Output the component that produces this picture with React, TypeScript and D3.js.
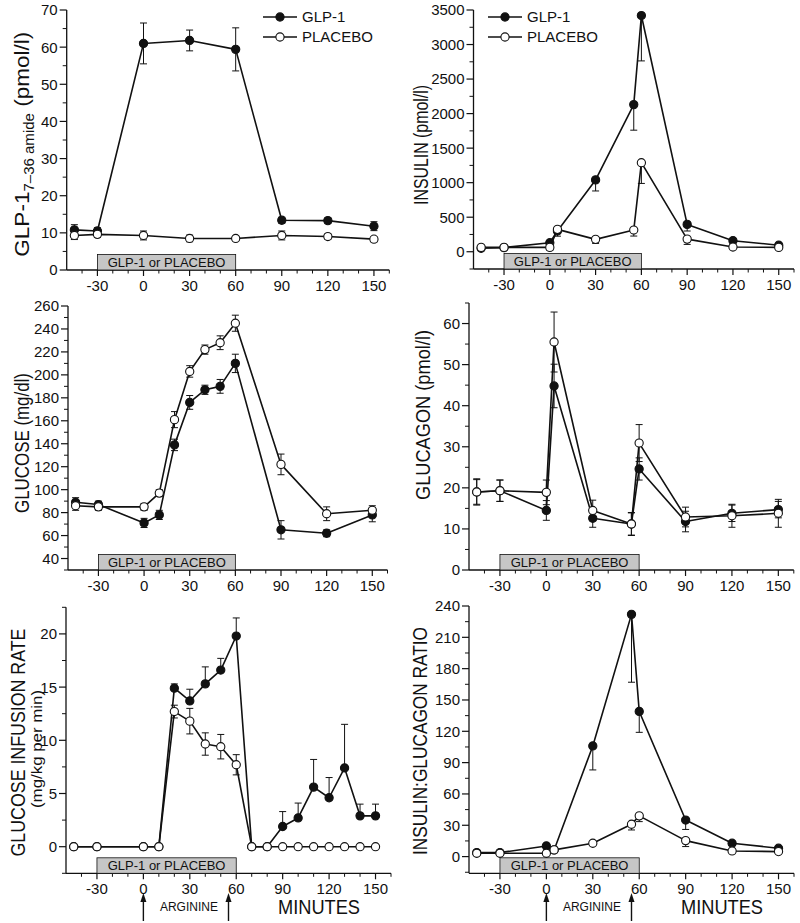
import React from 'react';
import * as d3 from 'd3';

const FONT = "'Liberation Sans', Arial, Helvetica, sans-serif";

// ---------- Panel A: GLP-1 7-36 amide ----------
const glpTimes = [-45, -30, 0, 30, 60, 90, 120, 150];
const glpGlp = [10.8, 10.5, 61.0, 61.8, 59.4, 13.4, 13.3, 11.8];
const glpGlpErr = [1.4, 0.9, 5.5, 2.8, 5.8, 0.8, 0.7, 1.2];
const glpPla = [9.3, 9.6, 9.3, 8.5, 8.5, 9.3, 9.0, 8.3];
const glpPlaErr = [1.1, 0.8, 1.2, 0.9, 0.6, 1.2, 0.7, 0.7];

// ---------- Panel B: insulin ----------
const insTimes = [-45, -30, 0, 5, 30, 55, 60, 90, 120, 150];
const insGlp = [50, 60, 130, 300, 1040, 2130, 3420, 396, 160, 95];
const insGlpErr = [20, 20, 40, 75, 160, 370, 657, 96, 30, 20];
const insPla = [63, 63, 63, 324, 179, 314, 1289, 183, 68, 63];
const insPlaErr = [20, 20, 40, 60, 58, 87, 300, 77, 20, 20];

// ---------- Panel C: glucose ----------
const gluTimes = [-45, -30, 0, 10, 20, 30, 40, 50, 60, 90, 120, 150];
const gluGlp = [89, 87, 71, 78, 139, 176, 187, 190, 210, 65, 62, 78];
const gluGlpErr = [4, 3, 4, 4, 5, 6, 4, 6, 8, 8, 3, 6];
const gluPla = [86, 85, 85, 97, 161, 203, 222, 228, 245, 122, 79, 82];
const gluPlaErr = [4, 3, 3, 3, 7, 5, 4, 6, 7, 9, 6, 4];

// ---------- Panel D: glucagon ----------
const gcgTimes = [-45, -30, 0, 5, 30, 55, 60, 90, 120, 150];
const gcgGlp = [19.0, 19.3, 14.5, 44.8, 12.6, 11.2, 24.6, 11.8, 13.8, 14.7];
const gcgGlpErr = [3.0, 2.6, 2.4, 5.3, 2.2, 2.7, 2.7, 2.5, 2.0, 2.0];
const gcgPla = [19.0, 19.3, 18.9, 55.5, 14.5, 11.2, 30.9, 12.9, 13.2, 13.8];
const gcgPlaErr = [3.2, 2.6, 3.0, 7.3, 2.5, 2.8, 4.5, 2.4, 2.8, 3.4];

// ---------- Panel E: glucose infusion rate ----------
const ginfTimes = [-45, -30, 0, 10, 20, 30, 40, 50, 60, 70, 80, 90, 100, 110, 120, 130, 140, 150];
const ginfGlp = [0, 0, 0, 0, 14.9, 13.7, 15.3, 16.6, 19.8, 0, 0, 1.9, 2.7, 5.6, 4.6, 7.4, 2.9, 2.9];
const ginfGlpErr = [0, 0, 0, 0, 0.4, 1.1, 1.6, 1.1, 1.7, 0, 0, 1.4, 1.4, 2.6, 1.9, 4.1, 1.1, 1.1];
const ginfPla = [0, 0, 0, 0, 12.7, 11.8, 9.65, 9.4, 7.7, 0, 0, 0, 0, 0, 0, 0, 0, 0];
const ginfPlaErr = [0, 0, 0, 0, 0.6, 1.2, 1.05, 1.15, 0.95, 0, 0, 0, 0, 0, 0, 0, 0, 0];

// ---------- Panel F: insulin:glucagon ratio ----------
const ratTimes = [-45, -30, 0, 5, 30, 55, 60, 90, 120, 150];
const ratGlp = [3.8, 3.8, 10.2, 6.4, 106, 232, 139, 35, 12.8, 8];
const ratGlpErr = [0, 0, 3, 0, 23, 65, 20, 9, 2, 1];
const ratPla = [3.2, 3.2, 3.2, 6.4, 12.8, 31, 39, 15.3, 5.4, 4.8];
const ratPlaErr = [0.5, 0.5, 0.5, 0.5, 1.5, 5.5, 5.5, 5.7, 1, 1];

const xMajorTicks = [-30, 0, 30, 60, 90, 120, 150];
const xDomain = [-50, 160];
const legendLabels = ['GLP-1', 'PLACEBO'];
const barLabel = 'GLP-1 or PLACEBO';
const barRange = [-30, 60];
const arginineTimes = [0, 55];

type Dir = 'both' | 'up' | 'down';
interface Series { times: number[]; values: number[]; errors: number[]; filled: boolean; dir: Dir; }
interface Box { left: number; right: number; top: number; bottom: number; }

const INK = '#111111';

function Panel(props: {
  box: Box; yDomain: [number, number]; yMajor: number; yMinor: number;
  series: Series[]; legend?: { x: number; y: number }; arrows?: boolean; title: React.ReactNode;
}) {
  const { box, yDomain, yMajor, yMinor, series, legend, arrows, title } = props;
  const x = d3.scaleLinear().domain(xDomain).range([box.left, box.right]);
  const y = d3.scaleLinear().domain(yDomain).range([box.bottom, box.top]);
  const eps = 1e-6;
  const yMaj: number[] = [];
  for (let v = Math.ceil(yDomain[0] / yMajor - eps) * yMajor; v <= yDomain[1] + eps; v += yMajor) yMaj.push(+v.toFixed(6));
  const yMin: number[] = [];
  for (let v = Math.ceil(yDomain[0] / yMinor - eps) * yMinor; v <= yDomain[1] + eps; v += yMinor) {
    const r = +v.toFixed(6);
    if (Math.abs(r / yMajor - Math.round(r / yMajor)) > 1e-6) yMin.push(r);
  }
  const xMin = d3.range(-40, 161, 10).filter((v) => v % 30 !== 0);
  const line = d3.line<[number, number]>().x((d) => x(d[0])).y((d) => y(d[1]));

  return (
    <g fontFamily={FONT}>
      {/* axes */}
      <line x1={box.left} x2={box.left} y1={box.top} y2={box.bottom} stroke={INK} strokeWidth={1.3} />
      <line x1={box.left} x2={box.right} y1={box.bottom} y2={box.bottom} stroke={INK} strokeWidth={1.3} />
      {yMaj.map((v) => (
        <g key={'ym' + v}>
          <line x1={box.left - 7} x2={box.left} y1={y(v)} y2={y(v)} stroke={INK} strokeWidth={1.2} />
          <text x={box.left - 9} y={y(v)} dy="0.36em" textAnchor="end" fontSize={15} fill={INK}>{v}</text>
        </g>
      ))}
      {yMin.map((v) => (
        <line key={'yn' + v} x1={box.left - 4} x2={box.left} y1={y(v)} y2={y(v)} stroke={INK} strokeWidth={1} />
      ))}
      {xMajorTicks.map((v) => (
        <g key={'xm' + v}>
          <line x1={x(v)} x2={x(v)} y1={box.bottom} y2={box.bottom + 6} stroke={INK} strokeWidth={1.2} />
          <text x={x(v)} y={box.bottom + 20.5} textAnchor="middle" fontSize={15} fill={INK}>{v}</text>
        </g>
      ))}
      {xMin.map((v) => (
        <line key={'xn' + v} x1={x(v)} x2={x(v)} y1={box.bottom} y2={box.bottom + 3.5} stroke={INK} strokeWidth={1} />
      ))}
      {/* infusion bar */}
      <rect x={x(barRange[0])} y={box.bottom - 15.5} width={x(barRange[1]) - x(barRange[0])} height={15.5}
        fill="#c6c6c6" stroke={INK} strokeWidth={0.8} />
      <text x={(x(barRange[0]) + x(barRange[1])) / 2} y={box.bottom - 3.4} textAnchor="middle" fontSize={13} fill={INK}>{barLabel}</text>
      {/* lines */}
      {series.map((s, i) => (
        <path key={'l' + i} d={line(s.times.map((t, j) => [t, s.values[j]] as [number, number])) || ''}
          fill="none" stroke={INK} strokeWidth={1.6} strokeLinejoin="round" />
      ))}
      {/* error bars */}
      {series.map((s, i) => (
        <g key={'e' + i}>
          {s.times.map((t, j) => {
            const e = s.errors[j];
            if (!e) return null;
            const hi = s.dir === 'down' ? s.values[j] : s.values[j] + e;
            const lo = s.dir === 'up' ? s.values[j] : s.values[j] - e;
            const cx = x(t);
            return (
              <g key={j} stroke={INK} strokeWidth={1}>
                <line x1={cx} x2={cx} y1={y(hi)} y2={y(lo)} />
                {s.dir !== 'down' && <line x1={cx - 3.5} x2={cx + 3.5} y1={y(hi)} y2={y(hi)} />}
                {s.dir !== 'up' && <line x1={cx - 3.5} x2={cx + 3.5} y1={y(lo)} y2={y(lo)} />}
              </g>
            );
          })}
        </g>
      ))}
      {/* markers */}
      {series.map((s, i) => (
        <g key={'m' + i}>
          {s.times.map((t, j) => (
            <circle key={j} cx={x(t)} cy={y(s.values[j])} r={4.1}
              fill={s.filled ? INK : '#ffffff'} stroke={INK} strokeWidth={1.1} />
          ))}
        </g>
      ))}
      {/* legend */}
      {legend && legendLabels.map((lab, i) => (
        <g key={'lg' + i}>
          <line x1={legend.x} x2={legend.x + 34} y1={legend.y + i * 20} y2={legend.y + i * 20} stroke={INK} strokeWidth={1.6} />
          <circle cx={legend.x + 17} cy={legend.y + i * 20} r={4.1} fill={i === 0 ? INK : '#fff'} stroke={INK} strokeWidth={1.1} />
          <text x={legend.x + 39} y={legend.y + i * 20} dy="0.36em" fontSize={15} fill={INK}>{lab}</text>
        </g>
      ))}
      {/* arginine arrows */}
      {arrows && (
        <g>
          {arginineTimes.map((t) => (
            <g key={'a' + t}>
              <line x1={x(t)} x2={x(t)} y1={921} y2={900} stroke={INK} strokeWidth={1.4} />
              <path d={`M${x(t)},${893} L${x(t) - 3},${902} L${x(t) + 3},${902} Z`} fill={INK} />
            </g>
          ))}
          <text x={(x(arginineTimes[0]) + x(arginineTimes[1])) / 2 + 3} y={911} textAnchor="middle" fontSize={12} fill={INK}>ARGININE</text>
          <text x={x(87)} y={914} fontSize={21} textLength={82} lengthAdjust="spacingAndGlyphs" fill={INK}>MINUTES</text>
        </g>
      )}
      {title}
    </g>
  );
}

function VTitle(props: { x: number; cy: number; len: number; size: number; children: React.ReactNode }) {
  const { x, cy, len, size, children } = props;
  return (
    <text transform={`translate(${x},${cy}) rotate(-90)`} textAnchor="middle" fontSize={size} fontFamily={FONT}
      textLength={len} lengthAdjust="spacingAndGlyphs" fill={INK}>{children}</text>
  );
}

export default function App() {
  const ser = (times: number[], a: number[], ae: number[], b: number[], be: number[], da: Dir, db: Dir): Series[] => [
    { times, values: a, errors: ae, filled: true, dir: da },
    { times, values: b, errors: be, filled: false, dir: db },
  ];
  return (
    <svg width={800} height={923} style={{ position: 'absolute', left: 0, top: 0, background: '#fff' }}>
      <rect width={800} height={923} fill="#fff" />
      <Panel box={{ left: 66.7, right: 389.3, top: 10, bottom: 270 }} yDomain={[0, 70]} yMajor={10} yMinor={5}
        series={ser(glpTimes, glpGlp, glpGlpErr, glpPla, glpPlaErr, 'both', 'both')}
        legend={{ x: 263, y: 17 }}
        title={
          <text transform="translate(28.5,256.7) rotate(-90)" fontSize={21} fontFamily={FONT} fill={INK}
            textLength={225} lengthAdjust="spacingAndGlyphs">
            <tspan>GLP-1</tspan>
            <tspan fontSize={14} dy={5}>7–36 amide</tspan>
            <tspan dy={-5}> (pmol/l)</tspan>
          </text>
        } />
      <Panel box={{ left: 473.5, right: 794, top: 10, bottom: 269 }} yDomain={[-250, 3500]} yMajor={500} yMinor={250}
        series={ser(insTimes, insGlp, insGlpErr, insPla, insPlaErr, 'down', 'down')}
        legend={{ x: 488, y: 17 }}
        title={<VTitle x={428} cy={145} len={120} size={21}>INSULIN (pmol/l)</VTitle>} />
      <Panel box={{ left: 68, right: 387.5, top: 306, bottom: 570 }} yDomain={[30, 260]} yMajor={20} yMinor={10}
        series={ser(gluTimes, gluGlp, gluGlpErr, gluPla, gluPlaErr, 'both', 'both')}
        title={<VTitle x={29} cy={443} len={140} size={21}>GLUCOSE (mg/dl)</VTitle>} />
      <Panel box={{ left: 469, right: 793.8, top: 303, bottom: 570 }} yDomain={[0, 65]} yMajor={10} yMinor={5}
        series={ser(gcgTimes, gcgGlp, gcgGlpErr, gcgPla, gcgPlaErr, 'both', 'both')}
        title={<VTitle x={430} cy={415} len={170} size={21}>GLUCAGON (pmol/l)</VTitle>} />
      <Panel box={{ left: 66, right: 391, top: 607.3, bottom: 873.3 }} yDomain={[-2.5, 22.5]} yMajor={5} yMinor={2.5}
        series={ser(ginfTimes, ginfGlp, ginfGlpErr, ginfPla, ginfPlaErr, 'up', 'both')}
        arrows
        title={
          <g>
            <VTitle x={25} cy={742.5} len={228} size={21}>GLUCOSE INFUSION RATE</VTitle>
            <VTitle x={42} cy={749} len={118} size={14}>(mg/kg per min)</VTitle>
          </g>
        } />
      <Panel box={{ left: 469, right: 794, top: 606, bottom: 873.3 }} yDomain={[-16, 240]} yMajor={30} yMinor={15}
        series={ser(ratTimes, ratGlp, ratGlpErr, ratPla, ratPlaErr, 'down', 'down')}
        arrows
        title={<VTitle x={427} cy={741} len={228} size={21}>INSULIN:GLUCAGON RATIO</VTitle>} />
    </svg>
  );
}
